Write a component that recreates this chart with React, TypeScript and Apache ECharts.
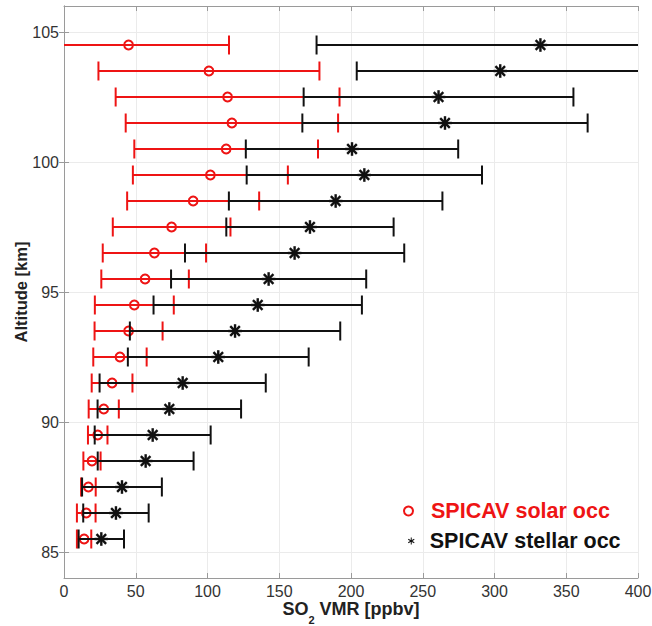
import React, { useEffect, useRef } from 'react';
import * as echarts from 'echarts';

// Altitude levels [km]
const altitudes = [104.5, 103.5, 102.5, 101.5, 100.5, 99.5, 98.5, 97.5, 96.5, 95.5, 94.5, 93.5, 92.5, 91.5, 90.5, 89.5, 88.5, 87.5, 86.5, 85.5];
// SPICAV solar occultation SO2 VMR [ppbv] and its error (half width)
const solarVmr = [45, 101, 114, 117, 113, 102, 90, 75, 63, 56.5, 49, 45, 39, 33.5, 27.7, 23.5, 19.5, 17, 15.5, 14];
const solarErr = [70, 77, 78, 74, 64, 54, 46, 41, 36, 30.5, 27.5, 23.7, 18.6, 14.2, 10.5, 6.8, 6, 5.1, 6.5, 5];
// SPICAV stellar occultation SO2 VMR [ppbv] and its error (half width)
const stellarVmr = [332, 304, 261, 265.5, 200.7, 209.3, 189.3, 171.4, 160.7, 142.6, 135, 119.2, 107.5, 82.7, 73.4, 61.8, 56.9, 40.4, 36.2, 26];
const stellarErr = [156, 100, 94, 99.4, 74, 82, 74.4, 58.3, 76.4, 68, 72.6, 73.3, 63, 57.9, 50, 40.4, 33.4, 27.8, 22.8, 15.8];
// Axis ticks
const yTickValues = [85, 90, 95, 100, 105];
const xMin = 0;
const xMax = 400;
const xStep = 50;
const yMin = 84;
const yMax = 106;

const SOLAR_NAME = 'SPICAV solar occ';
const STELLAR_NAME = 'SPICAV stellar occ';

const RED = '#ee1414';
const BLACK = '#111111';
const FONT = '"Liberation Sans", Arial, Helvetica, sans-serif';
const AXIS_COLOR = '#9a9a9a';
const GRID_COLOR = '#ebebeb';

const ASTERISK_PATH =
  'path://M4.3 0L5.7 0L5.7 10L4.3 10Z' +
  'M1.05 1.9L9.65 6.9L8.95 8.1L0.35 3.1Z' +
  'M0.35 6.9L8.95 1.9L9.65 3.1L1.05 8.1Z';

function buildData(vals: number[], errs: number[]) {
  return altitudes.map((a, i) => [a, vals[i] - errs[i], vals[i], vals[i] + errs[i]]);
}

function makeRender(kind: 'solar' | 'stellar') {
  return (params: any, api: any) => {
    const alt = api.value(0);
    const lo = api.value(1);
    const v = api.value(2);
    const hi = api.value(3);
    const a = api.coord([lo, alt]);
    const b = api.coord([hi, alt]);
    const c = api.coord([v, alt]);
    const color = kind === 'solar' ? RED : BLACK;
    const capH = 9.5;
    const lw = 2;
    const children: any[] = [
      { type: 'line', shape: { x1: a[0], y1: a[1], x2: b[0], y2: b[1] }, style: { stroke: color, lineWidth: lw } },
      { type: 'line', shape: { x1: a[0], y1: a[1] - capH, x2: a[0], y2: a[1] + capH }, style: { stroke: color, lineWidth: lw } },
      { type: 'line', shape: { x1: b[0], y1: b[1] - capH, x2: b[0], y2: b[1] + capH }, style: { stroke: color, lineWidth: lw } },
    ];
    if (kind === 'solar') {
      children.push({
        type: 'circle',
        shape: { cx: c[0], cy: c[1], r: 4.4 },
        style: { fill: 'none', stroke: color, lineWidth: 2 },
      });
    } else {
      const r = 6.8;
      for (let k = 0; k < 4; k++) {
        const ang = (k * Math.PI) / 4;
        const dx = Math.cos(ang) * r;
        const dy = Math.sin(ang) * r;
        children.push({
          type: 'line',
          shape: { x1: c[0] - dx, y1: c[1] - dy, x2: c[0] + dx, y2: c[1] + dy },
          style: { stroke: color, lineWidth: 2.4 },
        });
      }
    }
    return { type: 'group', children };
  };
}

export default function App() {
  const ref = useRef<HTMLDivElement>(null);

  useEffect(() => {
    if (!ref.current) return;
    const chart = echarts.init(ref.current, undefined, { renderer: 'svg' });

    const axisLine = { show: true, lineStyle: { color: AXIS_COLOR, width: 1 } };
    const axisTick = { show: true, inside: true, length: 5, lineStyle: { color: AXIS_COLOR, width: 1 } };
    const labelStyle = { color: '#333', fontSize: 16, fontFamily: FONT };

    const option: any = {
      animation: false,
      backgroundColor: '#ffffff',
      grid: { left: 64, right: 14, top: 6, bottom: 48, containLabel: false, outerBoundsMode: 'none' },
      xAxis: [
        {
          type: 'value',
          position: 'bottom',
          min: xMin,
          max: xMax,
          interval: xStep,
          axisLine,
          axisTick,
          axisLabel: { ...labelStyle, margin: 7, lineHeight: 12 },
          splitLine: { show: true, lineStyle: { color: GRID_COLOR, width: 1 } },
          name: '{a|SO}{b|2}{a| VMR [ppbv]}',
          nameLocation: 'middle',
          nameGap: 22,
          nameMoveOverlap: false,
          nameTextStyle: {
            rich: {
              a: { fontSize: 18, fontWeight: 'bold', fontFamily: FONT, color: '#222', verticalAlign: 'top' },
              b: { fontSize: 11, fontWeight: 'bold', fontFamily: FONT, color: '#222', lineHeight: 25, verticalAlign: 'bottom' },
            },
          },
        },
        {
          type: 'value',
          position: 'top',
          min: xMin,
          max: xMax,
          interval: xStep,
          axisLine,
          axisTick,
          axisLabel: { show: false },
          splitLine: { show: false },
        },
      ],
      yAxis: [
        {
          type: 'value',
          position: 'left',
          min: yMin,
          max: yMax,
          axisLine,
          axisTick: { ...axisTick, customValues: yTickValues },
          axisLabel: { ...labelStyle, margin: 5, customValues: yTickValues },
          splitLine: { show: true, lineStyle: { color: GRID_COLOR, width: 1 } },
          name: 'Altitude [km]',
          nameLocation: 'middle',
          nameRotate: 90,
          nameGap: 35,
          nameMoveOverlap: false,
          nameTextStyle: { fontSize: 16.5, fontWeight: 'bold', fontFamily: FONT, color: '#222' },
        },
        {
          type: 'value',
          position: 'right',
          min: yMin,
          max: yMax,
          axisLine,
          axisTick: { ...axisTick, customValues: yTickValues },
          axisLabel: { show: false },
          splitLine: { show: false },
        },
      ],
      legend: [
        {
          data: [{ name: SOLAR_NAME, icon: 'emptyCircle' }],
          left: 403,
          top: 500,
          padding: 0,
          itemWidth: 9,
          itemHeight: 9,
          selectedMode: false,
          textStyle: { color: RED, fontSize: 21.5, fontWeight: 'bold', fontFamily: FONT, padding: [0, 0, 0, 13] },
        },
        {
          data: [{ name: STELLAR_NAME, icon: ASTERISK_PATH }],
          left: 408,
          top: 530,
          padding: 0,
          itemWidth: 7,
          itemHeight: 7,
          selectedMode: false,
          textStyle: { color: BLACK, fontSize: 21.5, fontWeight: 'bold', fontFamily: FONT, padding: [0, 0, 0, 10] },
        },
      ],
      series: [
        {
          name: SOLAR_NAME,
          type: 'custom',
          xAxisIndex: 0,
          yAxisIndex: 0,
          clip: true,
          itemStyle: { color: RED },
          renderItem: makeRender('solar'),
          encode: { x: [1, 2, 3], y: 0 },
          data: buildData(solarVmr, solarErr),
          z: 2,
        },
        {
          name: STELLAR_NAME,
          type: 'custom',
          xAxisIndex: 0,
          yAxisIndex: 0,
          clip: true,
          itemStyle: { color: BLACK },
          renderItem: makeRender('stellar'),
          encode: { x: [1, 2, 3], y: 0 },
          data: buildData(stellarVmr, stellarErr),
          z: 3,
        },
      ],
    };

    chart.setOption(option);
    return () => {
      chart.dispose();
    };
  }, []);

  return (
    <div
      ref={ref}
      style={{ position: 'absolute', left: 0, top: 0, width: 652, height: 626, background: '#fff' }}
    />
  );
}
